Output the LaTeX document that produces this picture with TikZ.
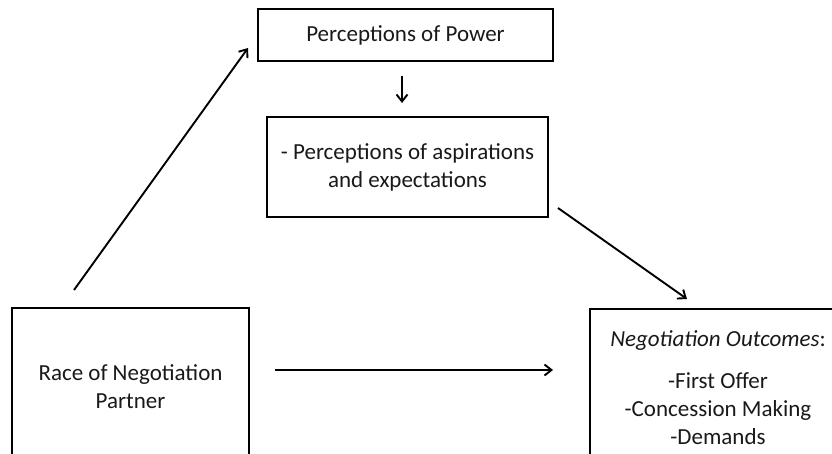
\documentclass[tikz,border=0pt]{standalone}
\usepackage{fontspec}
\setmainfont{Carlito}
\usetikzlibrary{arrows.meta}
\begin{document}
\begin{tikzpicture}[x=1pt,y=-1pt,
  box/.style={draw,line width=2pt,rectangle,inner sep=0pt,align=center,
    font=\fontsize{23}{28}\selectfont,text=black!90},
  arr/.style={line width=1.9pt,-{Straight Barb[length=7pt,width=11pt,line width=1.9pt]}}]
\useasboundingbox (0,0) rectangle (832,454);
\clip (0,0) rectangle (832,454);
\node[box,minimum width=295pt,minimum height=52pt] (power) at (405.5,35) {Perceptions of Power};
\node[box,minimum width=281pt,minimum height=100pt] (asp) at (407.5,167) {- Perceptions of aspirations\\and expectations};
\node[box,minimum width=237pt,minimum height=158pt] (race) at (130.5,387) {Race of Negotiation\\Partner};
\node[box,minimum width=256pt,minimum height=158pt] (out) at (718,388) {\textit{Negotiation Outcomes}:\\[14pt]-First Offer\\-Concession Making\\-Demands};
\coordinate (a1s) at (74,290);
\coordinate (a1e) at (248,48);
\coordinate (a2s) at (402,76);
\coordinate (a2e) at (402,103);
\coordinate (a3s) at (558,208);
\coordinate (a3e) at (687,299);
\coordinate (a4s) at (275,370);
\coordinate (a4e) at (553,370);
\draw[arr] (a1s) -- (a1e);
\draw[arr] (a2s) -- (a2e);
\draw[arr] (a3s) -- (a3e);
\draw[arr] (a4s) -- (a4e);
\end{tikzpicture}
\end{document}
